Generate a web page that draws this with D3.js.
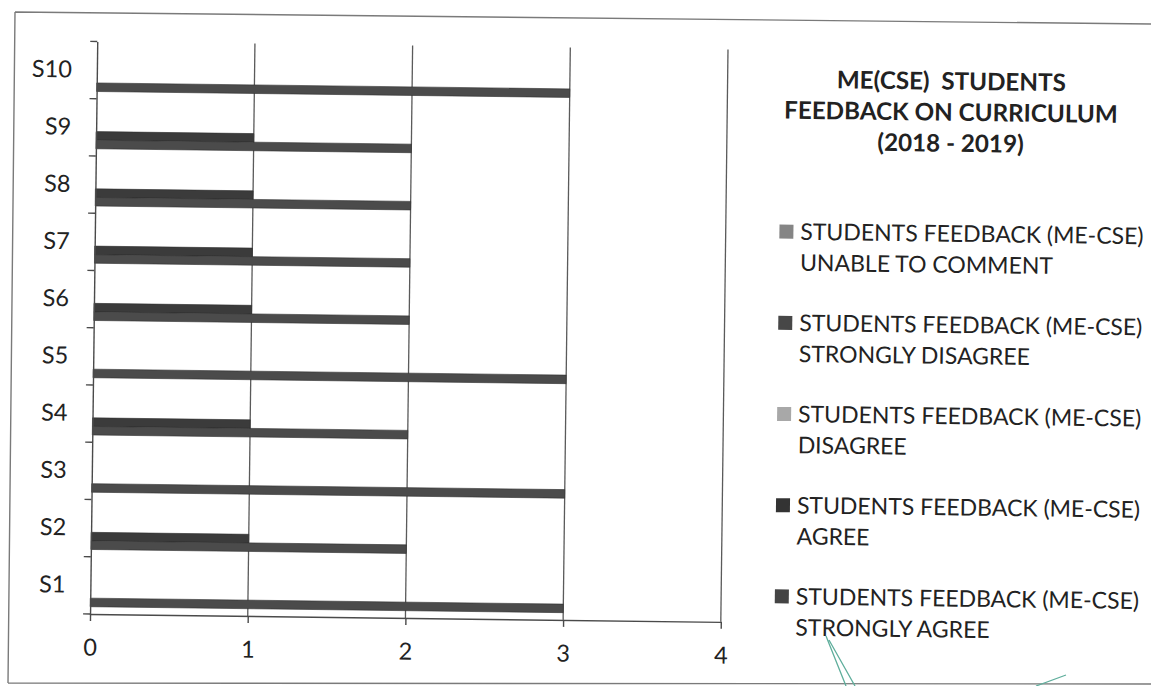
<!DOCTYPE html>
<html>
<head>
<meta charset="utf-8">
<script src="https://cdn.jsdelivr.net/npm/d3@7"></script>
<style>
  html, body { margin: 0; padding: 0; background: #ffffff; }
  svg { display: block; }
  text { font-family: Lato, "Open Sans", "Noto Sans", sans-serif; fill: #222; }
</style>
</head>
<body>
<svg id="chart" width="1151" height="686"></svg>
<script>
// ---------------- DATA ----------------
const categories = ["S1", "S2", "S3", "S4", "S5", "S6", "S7", "S8", "S9", "S10"];
const seriesKeys = ["unable", "stronglyDisagree", "disagree", "agree", "stronglyAgree"];
const seriesLabels = [
  "STUDENTS FEEDBACK (ME-CSE) UNABLE TO COMMENT",
  "STUDENTS FEEDBACK (ME-CSE) STRONGLY DISAGREE",
  "STUDENTS FEEDBACK (ME-CSE) DISAGREE",
  "STUDENTS FEEDBACK (ME-CSE) AGREE",
  "STUDENTS FEEDBACK (ME-CSE) STRONGLY AGREE"
];
const unableToComment  = [0, 0, 0, 0, 0, 0, 0, 0, 0, 0];
const stronglyDisagree = [0, 0, 0, 0, 0, 0, 0, 0, 0, 0];
const disagree         = [0, 0, 0, 0, 0, 0, 0, 0, 0, 0];
const agree            = [0, 1, 0, 1, 0, 1, 1, 1, 1, 0];
const stronglyAgree    = [3, 2, 3, 2, 3, 2, 2, 2, 2, 3];
const xTicks = [0, 1, 2, 3, 4];
const titleLines = ["ME(CSE)  STUDENTS", "FEEDBACK ON CURRICULUM", "(2018 - 2019)"];

// ---------------- STYLE ----------------
const seriesValues = [unableToComment, stronglyDisagree, disagree, agree, stronglyAgree];
const barColors    = ["#8a8a8a", "#4a4a4a", "#a3a3a3", "#3b3b3b", "#4b4b4b"];
const legendColors = ["#858585", "#474747", "#a8a8a8", "#333333", "#444444"];

const table = categories.map((c, i) => {
  const row = { category: c };
  seriesKeys.forEach((k, j) => { row[k] = seriesValues[j][i]; });
  return row;
});

const svg = d3.select("#chart");

// scanned-page frame (outside the rotated chart)
svg.append("path")
  .attr("d", "M15,12 L8,683 M15,12 L1151,24 M8,683 L1151,684")
  .attr("fill", "none").attr("stroke", "#7a7a7a").attr("stroke-width", 1.4);

const root = svg.append("g").attr("transform", "rotate(0.72, 575, 343)");

const plot = { left: 93.5, right: 724.3, top: 47.5, bottom: 620 };

const x = d3.scaleLinear().domain([0, 4]).range([plot.left, plot.right]);
const y = d3.scaleBand()
  .domain(categories.slice().reverse())
  .range([plot.top, plot.bottom])
  .paddingInner(0.252)
  .paddingOuter(0.126);
const ySub = d3.scaleBand().domain(seriesKeys).range([0, y.bandwidth()]);

// vertical gridlines
root.append("g").selectAll("line")
  .data(xTicks.filter(t => t > 0))
  .join("line")
  .attr("x1", d => x(d)).attr("x2", d => x(d))
  .attr("y1", plot.top).attr("y2", plot.bottom)
  .attr("stroke", "#5a5a5a").attr("stroke-width", 1.3);

// bars
const groups = root.append("g").selectAll("g")
  .data(table)
  .join("g")
  .attr("transform", d => `translate(0,${y(d.category)})`);

groups.selectAll("rect")
  .data(d => seriesKeys.map((k, j) => ({ key: k, j, value: d[k] })))
  .join("rect")
  .attr("x", x(0))
  .attr("y", d => ySub(d.key))
  .attr("width", d => x(d.value) - x(0))
  .attr("height", ySub.bandwidth())
  .attr("fill", d => barColors[d.j])
  .attr("stroke", d => d.value > 0 ? "#2e2e2e" : "none")
  .attr("stroke-width", 0.6);

// bottom axis
const xAxis = root.append("g")
  .attr("transform", `translate(0,${plot.bottom})`)
  .call(d3.axisBottom(x).tickValues(xTicks).tickFormat(d3.format("d"))
    .tickSize(7).tickSizeOuter(0).tickPadding(18));
xAxis.select(".domain").attr("stroke", "#4a4a4a").attr("stroke-width", 1.4);
xAxis.selectAll(".tick line").attr("stroke", "#4a4a4a").attr("stroke-width", 1.4);
xAxis.selectAll(".tick text")
  .attr("font-family", "Lato, 'Open Sans', sans-serif")
  .attr("font-size", 23.5).attr("fill", "#222");

// left axis (labels)
const yAxis = root.append("g")
  .attr("transform", `translate(${plot.left},0)`)
  .call(d3.axisLeft(y).tickSize(0).tickPadding(25));
yAxis.select(".domain").attr("stroke", "#4a4a4a").attr("stroke-width", 1.4);
yAxis.selectAll(".tick text")
  .attr("font-family", "Lato, 'Open Sans', sans-serif")
  .attr("font-size", 23.5).attr("fill", "#222");

// category boundary ticks
root.append("g").selectAll("line")
  .data(d3.range(categories.length + 1))
  .join("line")
  .attr("x1", plot.left - 7).attr("x2", plot.left)
  .attr("y1", i => plot.top + i * y.step()).attr("y2", i => plot.top + i * y.step())
  .attr("stroke", "#4a4a4a").attr("stroke-width", 1.4);

// title
root.append("g").selectAll("text")
  .data(titleLines)
  .join("text")
  .attr("x", 948)
  .attr("y", (d, i) => 85 + i * 31)
  .attr("text-anchor", "middle")
  .attr("font-size", 24.2)
  .attr("font-weight", "bold")
  .style("white-space", "pre")
  .text(d => d);

// legend
const legend = root.append("g").selectAll("g")
  .data(seriesLabels)
  .join("g")
  .attr("transform", (d, i) => `translate(0,${237 + i * 91.2})`);

legend.append("rect")
  .attr("x", 778).attr("y", -15)
  .attr("width", 14).attr("height", 14)
  .attr("fill", (d, i) => legendColors[i]);

legend.append("text")
  .attr("x", 799).attr("y", 0)
  .attr("font-size", 23)
  .text(d => d.slice(0, d.indexOf(")") + 1));

legend.append("text")
  .attr("x", 799).attr("y", 31)
  .attr("font-size", 23)
  .text(d => d.slice(d.indexOf(")") + 2));

// pen marks on the scanned page
svg.append("path")
  .attr("d", "M826,636 L846,686 M829,640 L855,686 M1036,686 L1066,675")
  .attr("fill", "none").attr("stroke", "#5fae9c").attr("stroke-width", 1.3);
</script>
</body>
</html>
